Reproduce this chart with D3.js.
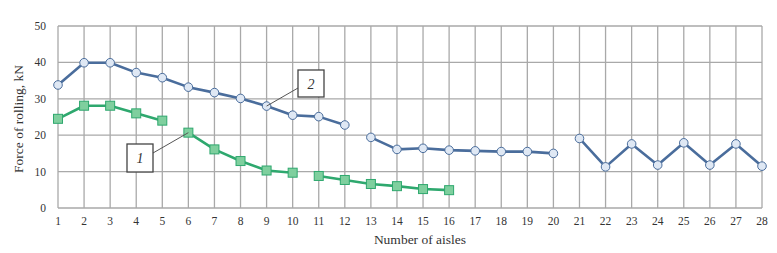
<!DOCTYPE html>
<html>
<head>
<meta charset="utf-8">
<script src="https://cdn.jsdelivr.net/npm/d3@7"></script>
<style>
    body { margin: 0; background: #fff; }
    svg text { font-family: "Liberation Serif", "DejaVu Serif", serif; fill: #333; }
</style>
</head>
<body>
<svg id="chart" width="777" height="253"></svg>
<script>
// aisles 1..28
const aisles = d3.range(1, 29);
const yTicks = [0, 10, 20, 30, 40, 50];

// curve 2 (blue circles), three pieces
const force2 = [
    33.8, 39.9, 39.9, 37.2, 35.8, 33.2, 31.7, 30.1, 28.0, 25.5, 25.1, 22.8,
    19.4, 16.1, 16.4, 15.9, 15.7, 15.5, 15.5, 15.0,
    19.1, 11.3, 17.6, 11.8, 17.9, 11.8, 17.6, 11.5
];
const breaks2 = [12, 20]; // no line after these aisles

// curve 1 (green squares), aisles 1..16
const force1 = [
    24.5, 28.1, 28.1, 26.0, 24.0,
    20.7, 16.1, 12.9, 10.3, 9.7,
    8.8, 7.7, 6.6, 6.0, 5.2, 4.9
];
const breaks1 = [5, 10];

// callouts: label, aisle of the point, box position
const callouts = [
    { label: "1", aisle: 6, series: force1, box: [127, 144, 26, 28] },
    { label: "2", aisle: 9, series: force2, box: [298, 70, 26, 27] }
];

const svg = d3.select("#chart");
const x = d3.scaleLinear().domain([1, 28]).range([58, 762]);
const y = d3.scaleLinear().domain([0, 50]).range([208, 26]);

// grid
svg.append("g")
    .selectAll("line")
    .data(aisles)
    .join("line")
    .attr("x1", d => x(d)).attr("x2", d => x(d))
    .attr("y1", y(50)).attr("y2", y(0))
    .attr("stroke", "#a9a9a9").attr("stroke-width", 1.3);

svg.append("g")
    .selectAll("line")
    .data(yTicks)
    .join("line")
    .attr("x1", x(1)).attr("x2", x(28))
    .attr("y1", d => y(d)).attr("y2", d => y(d))
    .attr("stroke", "#a9a9a9").attr("stroke-width", 1.3);

// tick labels
svg.append("g")
    .selectAll("text")
    .data(yTicks)
    .join("text")
    .attr("x", 46).attr("y", d => y(d) + 4)
    .attr("text-anchor", "end")
    .attr("font-size", 11.5)
    .text(d => d);

svg.append("g")
    .selectAll("text")
    .data(aisles)
    .join("text")
    .attr("x", d => x(d)).attr("y", 225)
    .attr("text-anchor", "middle")
    .attr("font-size", 11.5)
    .text(d => d);

svg.append("text")
    .attr("x", 420).attr("y", 244)
    .attr("text-anchor", "middle")
    .attr("font-size", 13.5)
    .text("Number of aisles");

svg.append("text")
    .attr("transform", "translate(23,119) rotate(-90)")
    .attr("text-anchor", "middle")
    .attr("font-size", 13.5)
    .text("Force of rolling, kN");

function drawSeries(values, breaks, color, fill, shape) {
    const pts = values.map((v, i) => ({ a: i + 1, v: v }));
    const line = d3.line()
        .x(d => x(d.a)).y(d => y(d.v));
    // split into pieces at breaks
    let start = 0;
    breaks.concat([values.length]).forEach(b => {
        svg.append("path")
            .datum(pts.slice(start, b))
            .attr("d", line)
            .attr("fill", "none")
            .attr("stroke", color)
            .attr("stroke-width", 2.6)
            .attr("stroke-linejoin", "round");
        start = b;
    });
    const g = svg.append("g");
    if (shape === "circle") {
        g.selectAll("circle").data(pts).join("circle")
            .attr("cx", d => x(d.a)).attr("cy", d => y(d.v)).attr("r", 4.3)
            .attr("fill", fill).attr("stroke", color).attr("stroke-width", 1);
    } else {
        g.selectAll("rect").data(pts).join("rect")
            .attr("x", d => x(d.a) - 4.5).attr("y", d => y(d.v) - 4.5)
            .attr("width", 9).attr("height", 9)
            .attr("fill", fill).attr("stroke", color).attr("stroke-width", 1);
    }
}

drawSeries(force1, breaks1, "#2ea86e", "#7fcf9e", "square");
drawSeries(force2, breaks2, "#4a6d9c", "#dfe8f4", "circle");

// callouts
callouts.forEach(c => {
    const [bx, by, bw, bh] = c.box;
    const px = x(c.aisle), py = y(c.series[c.aisle - 1]);
    const sx = c.label === "1" ? bx + bw : bx;
    const sy = c.label === "1" ? by + 9 : by + bh - 9;
    svg.append("line")
        .attr("x1", sx).attr("y1", sy).attr("x2", px).attr("y2", py)
        .attr("stroke", "#555").attr("stroke-width", 1);
    svg.append("rect")
        .attr("x", bx).attr("y", by).attr("width", bw).attr("height", bh)
        .attr("fill", "#fff").attr("stroke", "#444").attr("stroke-width", 1.3);
    svg.append("text")
        .attr("x", bx + bw / 2).attr("y", by + bh / 2 + 5)
        .attr("text-anchor", "middle")
        .attr("font-size", 14).attr("font-style", "italic")
        .text(c.label);
});
</script>
</body>
</html>
